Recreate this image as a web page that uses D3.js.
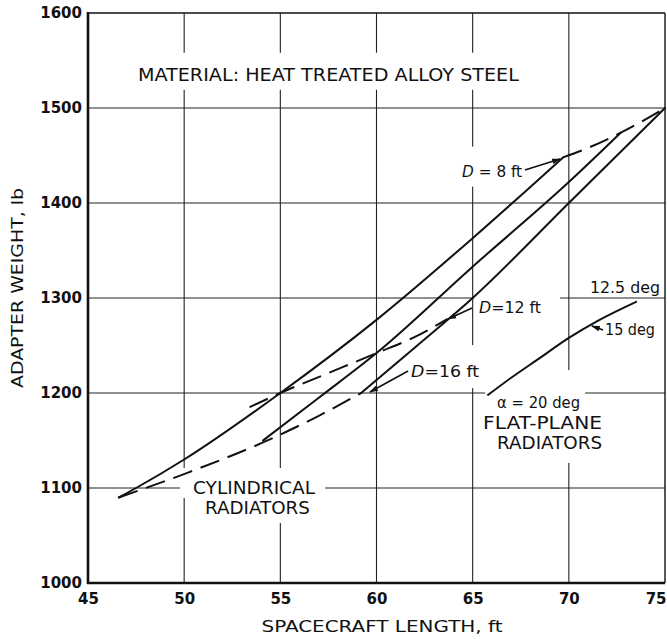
<!DOCTYPE html>
<html><head><meta charset="utf-8">
<script src="https://cdn.jsdelivr.net/npm/d3@7"></script>
<style>body{margin:0;background:#fff} svg{display:block}</style>
</head><body><svg id="c" width="667" height="639"></svg>
<script>
// ---- data ----
const xTicks = [45, 50, 55, 60, 65, 70, 75];
const yTicks = [1000, 1100, 1200, 1300, 1400, 1500, 1600];

// cylindrical radiators – solid curves
const cylSolidA = [[46.6,1090],[47.5,1100],[50,1130],[55,1200],[60,1277],[65,1363],[69.7,1448]];
const cylSolidB = [[54.1,1150],[57,1195],[60,1242],[65,1333],[70,1422],[72.7,1474]];
const cylSolidC = [[59.2,1200],[62,1248],[65,1300],[70,1400],[75,1500]];
// cylindrical radiators – dashed curves (constant D)
const cylD8  = [[69.7,1448],[71,1458],[72.7,1474],[75,1500]];
const cylD12 = [[53.4,1185],[55,1200],[57.5,1221],[60,1242],[62,1259],[63.7,1278]];
const cylD16 = [[46.6,1090],[50.3,1117],[54.1,1148],[57,1176],[59.2,1200]];
// flat-plane radiators
const flatLine = [[65.8,1198],[67,1216],[68.5,1237],[70,1258],[71.5,1276],[73.5,1296]];

const title = "MATERIAL: HEAT TREATED ALLOY STEEL";
const xTitle = "SPACECRAFT LENGTH, ft";
const yTitle = "ADAPTER WEIGHT, lb";

// ---- layout ----
const W = 667, H = 639;
const m = {l: 88, r: 2, t: 13, b: 56};
const svg = d3.select("#c");
const FONT = "'DejaVu Sans', 'Liberation Sans', sans-serif";
const x = d3.scaleLinear().domain([45, 75]).range([m.l, W - m.r]);
const y = d3.scaleLinear().domain([1000, 1600]).range([H - m.b, m.t]);

svg.append("rect").attr("width", W).attr("height", H).attr("fill", "#fff");

// grid
const g = svg.append("g");
g.selectAll(".vg").data(xTicks.slice(1, -1)).join("line")
  .attr("x1", d => x(d)).attr("x2", d => x(d)).attr("y1", y(1000)).attr("y2", y(1600))
  .attr("stroke", "#222").attr("stroke-width", 1.1);
g.selectAll(".hg").data(yTicks.slice(1, -1)).join("line")
  .attr("x1", x(45)).attr("x2", x(75)).attr("y1", d => y(d)).attr("y2", d => y(d))
  .attr("stroke", "#222").attr("stroke-width", 1.1);
g.append("line").attr("x1", x(45)).attr("x2", x(75)).attr("y1", y(1600)).attr("y2", y(1600)).attr("stroke", "#111").attr("stroke-width", 1.4);
g.append("line").attr("x1", x(75)).attr("x2", x(75)).attr("y1", y(1600)).attr("y2", y(1000)).attr("stroke", "#111").attr("stroke-width", 1.4);

// labels (positioned in data units); pad = [top,right,bottom,left] of white gap box
const labels = [
  {t: title, x: 57.5, y: 1535, w: 381, fs: 17, anchor: "middle", pad: [22, 5, 15, 5]},
  {t: "D = 8 ft", x: 64.45, y: 1433, w: 60, fs: 15, pad: [25, 4, 15, 4], italD: true},
  {t: "D=12 ft", x: 65.33, y: 1289.5, w: 62, fs: 15, pad: [14, 19, 12, 5], italD: true},
  {t: "D=16 ft", x: 61.8, y: 1223, w: 68, fs: 15, pad: [26, 5, 17, 6], italD: true},
  {t: "12.5 deg", x: 71.1, y: 1311.6, w: 70, fs: 16, pad: null},
  {t: "15 deg", x: 71.88, y: 1267.4, w: 50, fs: 16, pad: null},
  {t: "α = 20 deg", x: 66.27, y: 1190.5, w: 83, fs: 16, pad: [32, 5, 10, 12]},
  {t: "FLAT-PLANE", x: 65.54, y: 1168.4, w: 119, fs: 17, pad: [11, 4, 10, 3]},
  {t: "RADIATORS", x: 66.27, y: 1147.4, w: 105, fs: 17, pad: [10, 4, 20, 14]},
  {t: "CYLINDRICAL", x: 50.46, y: 1100, w: 122, fs: 17, pad: [20, 10, 10, 13]},
  {t: "RADIATORS", x: 51.08, y: 1079, w: 105, fs: 17, pad: [10, 15, 15, 5]}
];
labels.filter(d => d.pad).forEach(d => {
  const x0 = d.anchor === "middle" ? x(d.x) - d.w / 2 : x(d.x);
  const cy = y(d.y);
  svg.append("rect")
    .attr("x", x0 - d.pad[3]).attr("y", cy - d.pad[0])
    .attr("width", d.w + d.pad[3] + d.pad[1]).attr("height", d.pad[0] + d.pad[2])
    .attr("fill", "#fff");
});

// axes frame left/bottom (thick)
svg.append("line").attr("x1", x(45)).attr("x2", x(45)).attr("y1", y(1600) - 1).attr("y2", y(1000) + 1).attr("stroke", "#111").attr("stroke-width", 2.6);
svg.append("line").attr("x1", x(45) - 1).attr("x2", x(75)).attr("y1", y(1000)).attr("y2", y(1000)).attr("stroke", "#111").attr("stroke-width", 2.6);

// axes tick labels
const xa = svg.append("g").attr("transform", `translate(0,${y(1000)})`)
  .call(d3.axisBottom(x).tickValues(xTicks).tickSize(0).tickPadding(10).tickFormat(d3.format("d")));
const ya = svg.append("g").attr("transform", `translate(${x(45)},0)`)
  .call(d3.axisLeft(y).tickValues(yTicks).tickSize(0).tickPadding(6).tickFormat(d3.format("d")));
[xa, ya].forEach(a => {
  a.select(".domain").remove();
  a.selectAll("text").attr("font-family", FONT).attr("font-size", 15).attr("font-weight", "bold").attr("fill", "#111");
});
xa.selectAll(".tick").filter(d => d === 75).select("text").attr("text-anchor", "end").attr("x", 1);

// curves
const line = d3.line().x(d => x(d[0])).y(d => y(d[1])).curve(d3.curveMonotoneX);
const curves = svg.append("g").attr("fill", "none").attr("stroke", "#111").attr("stroke-width", 2).attr("stroke-linecap", "round");
[cylSolidA, cylSolidB, cylSolidC, flatLine].forEach(s => curves.append("path").attr("d", line(s)));
[cylD8, cylD12, cylD16].forEach(s => curves.append("path").attr("d", line(s)).attr("stroke-dasharray", "20,9").attr("stroke-linecap", "butt"));

// leaders with arrowheads
svg.append("defs").append("marker").attr("id", "arr").attr("viewBox", "0 -4 10 8")
  .attr("refX", 9).attr("refY", 0).attr("markerWidth", 9).attr("markerHeight", 7)
  .attr("markerUnits", "userSpaceOnUse").attr("orient", "auto")
  .append("path").attr("d", "M0,-3.2L10,0L0,3.2Z").attr("fill", "#111");
const leaders = [
  [[67.72, 1434.7], [69.54, 1446.3]],
  [[64.97, 1289.5], [63.72, 1277.9]],
  [[61.64, 1223.2], [59.66, 1201]],
  [[71.78, 1266.3], [71.2, 1270.5]]
];
leaders.forEach(l => svg.append("line")
  .attr("x1", x(l[0][0])).attr("y1", y(l[0][1])).attr("x2", x(l[1][0])).attr("y2", y(l[1][1]))
  .attr("stroke", "#111").attr("stroke-width", 1.6).attr("marker-end", "url(#arr)"));

// label texts
labels.forEach(d => {
  const t = svg.append("text")
    .attr("x", x(d.x))
    .attr("y", y(d.y) + d.fs * 0.36)
    .attr("text-anchor", d.anchor || "start")
    .attr("font-family", FONT).attr("font-size", d.fs).attr("fill", "#111")
    .attr("textLength", d.w).attr("lengthAdjust", "spacingAndGlyphs");
  if (d.italD) {
    t.append("tspan").attr("font-style", "italic").text("D");
    t.append("tspan").text(d.t.slice(1));
  } else t.text(d.t);
});

// axis titles
svg.append("text").attr("x", 382).attr("y", 632)
  .attr("text-anchor", "middle").attr("font-family", FONT).attr("font-size", 16).attr("fill", "#111")
  .attr("textLength", 241).attr("lengthAdjust", "spacingAndGlyphs").text(xTitle);
svg.append("text").attr("transform", "translate(23,288) rotate(-90)")
  .attr("text-anchor", "middle").attr("font-family", FONT).attr("font-size", 16).attr("fill", "#111")
  .attr("textLength", 200).attr("lengthAdjust", "spacingAndGlyphs").text(yTitle);
</script></body></html>
